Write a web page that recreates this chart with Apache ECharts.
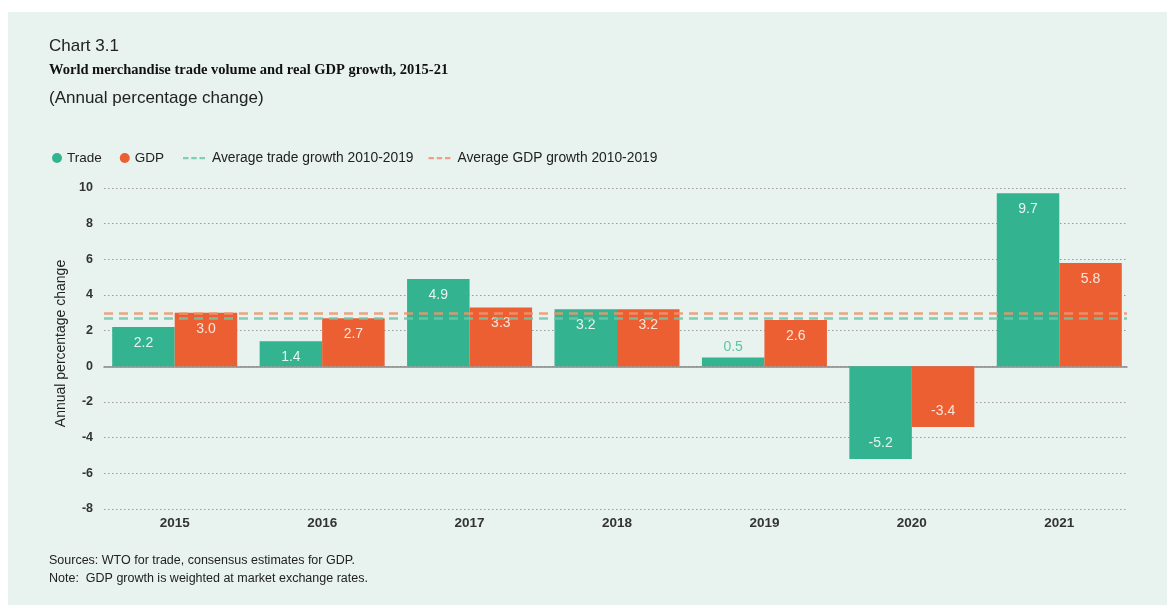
<!DOCTYPE html>
<html>
<head>
<meta charset="utf-8">
<script src="https://cdn.jsdelivr.net/npm/echarts@6/dist/echarts.min.js"></script>
<style>
html,body{margin:0;padding:0;background:#fff;}
#panel{position:absolute;left:8px;top:12px;width:1159px;height:593px;background:#e8f2ef;}
#chart{position:absolute;left:0;top:0;width:1159px;height:593px;}
</style>
</head>
<body>
<div id="panel"><div id="chart"></div></div>
<script>
const categories = ['2015','2016','2017','2018','2019','2020','2021'];
const tradeValues = [2.2, 1.4, 4.9, 3.2, 0.5, -5.2, 9.7];
const gdpValues = [3.0, 2.7, 3.3, 3.2, 2.6, -3.4, 5.8];
const avgTrade = 2.7;
const avgGdp = 3.0;
const yTicks = [-8, -6, -4, -2, 0, 2, 4, 6, 8, 10];

const GREEN = '#33b38f';
const ORANGE = '#ec5f32';
const FONT = '"Liberation Sans", Arial, sans-serif';
const DASH_ICON = 'path://M0,5h6v2.5h-6z M9,5h6v2.5h-6z M18,5h6v2.5h-6z M0,0h0.01v0.01h-0.01z M0,12h0.01v0.01h-0.01z';

function barData(vals) {
  return vals.map(v => {
    const item = { value: v };
    if (v < 0) {
      item.label = { position: 'insideBottom', distance: 9 };
    } else if (v < 1) {
      item.label = { position: 'top', color: '#5fc4a6', distance: 3 };
    }
    return item;
  });
}

const chart = echarts.init(document.getElementById('chart'), null, { renderer: 'canvas' });
const option = {
  backgroundColor: 'transparent',
  animation: false,
  title: [
    { text: 'Chart 3.1', left: 36, top: 21, textStyle: { fontFamily: FONT, fontSize: 17, fontWeight: 'normal', color: '#222' } },
    { text: 'World merchandise trade volume and real GDP growth, 2015-21', left: 36, top: 46, textStyle: { fontFamily: '"Liberation Serif", serif', fontSize: 14.5, fontWeight: 'bold', color: '#111' } },
    { text: '(Annual percentage change)', left: 36, top: 73, textStyle: { fontFamily: FONT, fontSize: 17, fontWeight: 'normal', color: '#222' } },
    { text: 'Sources: WTO for trade, consensus estimates for GDP.', left: 36, top: 537, textStyle: { fontFamily: FONT, fontSize: 12.5, fontWeight: 'normal', color: '#222' } },
    { text: 'Note:  GDP growth is weighted at market exchange rates.', left: 36, top: 555, textStyle: { fontFamily: FONT, fontSize: 12.5, fontWeight: 'normal', color: '#222' } }
  ],
  legend: [
    {
      left: 39, top: 134,
      itemGap: 18, itemWidth: 10, itemHeight: 10,
      textStyle: { fontFamily: FONT, fontSize: 13.5, color: '#222' },
      data: [
        { name: 'Trade', icon: 'circle' },
        { name: 'GDP', icon: 'circle' }
      ]
    },
    {
      left: 170, top: 134,
      itemGap: 15, itemWidth: 22, itemHeight: 12,
      textStyle: { fontFamily: FONT, fontSize: 13.8, color: '#222', padding: [0, 0, 0, 2] },
      data: [
        { name: 'Average trade growth 2010-2019', icon: DASH_ICON },
        { name: 'Average GDP growth 2010-2019', icon: DASH_ICON }
      ]
    }
  ],
  grid: [
    { left: 96, right: 40, top: 176, bottom: 96, containLabel: false },
    { left: 93, right: 34, top: 176, bottom: 96, containLabel: false }
  ],
  xAxis: [
    {
      gridIndex: 0, type: 'value', min: 0, max: 1,
      axisLine: { show: true, onZero: true, lineStyle: { color: '#888', width: 1.5 } },
      axisTick: { show: false }, axisLabel: { show: false }, splitLine: { show: false }
    },
    {
      gridIndex: 1, type: 'category', data: categories,
      axisLine: { show: false }, axisTick: { show: false },
      axisLabel: { fontFamily: FONT, fontSize: 13.5, fontWeight: 'bold', color: '#333', margin: 7 }
    }
  ],
  yAxis: [
    {
      gridIndex: 0, type: 'value',
      min: -8, max: 10, interval: 2,
      name: 'Annual percentage change',
      nameLocation: 'middle',
      nameGap: 30,
      nameRotate: 90,
      nameTextStyle: { fontFamily: FONT, fontSize: 14, color: '#222', padding: [0,0,0,10] },
      axisLine: { show: false },
      axisTick: { show: false },
      axisLabel: { fontFamily: FONT, fontSize: 12.5, fontWeight: 'bold', color: '#333', margin: 11,
        formatter: v => yTicks.includes(v) ? String(v) : '' },
      splitLine: { show: true, lineStyle: { color: '#9a9a9a', type: [1.5, 2.5], width: 1 } }
    },
    {
      gridIndex: 1, type: 'value',
      min: -8, max: 10, interval: 2,
      axisLine: { show: false }, axisTick: { show: false },
      axisLabel: { show: false }, splitLine: { show: false }
    }
  ],
  series: [
    {
      name: 'Trade', type: 'bar', xAxisIndex: 1, yAxisIndex: 1, data: barData(tradeValues),
      itemStyle: { color: GREEN },
      barGap: '0%', barCategoryGap: '15.2%',
      label: { show: true, position: 'insideTop', distance: 9, fontFamily: FONT, fontSize: 14, color: '#e3f5ee', formatter: p => p.value.toFixed(1) }
    },
    {
      name: 'GDP', type: 'bar', xAxisIndex: 1, yAxisIndex: 1, data: barData(gdpValues),
      itemStyle: { color: ORANGE },
      label: { show: true, position: 'insideTop', distance: 9, fontFamily: FONT, fontSize: 14, color: '#fde4da', formatter: p => p.value.toFixed(1) }
    },
    {
      name: 'Average trade growth 2010-2019', type: 'line', xAxisIndex: 0, yAxisIndex: 0,
      data: [],
      symbol: 'none',
      lineStyle: { color: '#7fcfb3', type: [7, 5], width: 2.5 },
      itemStyle: { color: '#7fcfb3' },
      z: 5,
      markLine: {
        silent: true, symbol: 'none', label: { show: false },
        lineStyle: { color: '#6cc8a8', type: [9, 6], width: 2.5, opacity: 0.85 },
        data: [{ yAxis: avgTrade }]
      }
    },
    {
      name: 'Average GDP growth 2010-2019', type: 'line', xAxisIndex: 0, yAxisIndex: 0,
      data: [],
      symbol: 'none',
      lineStyle: { color: '#f2a07f', type: [7, 5], width: 2.5 },
      itemStyle: { color: '#f2a07f' },
      z: 5,
      markLine: {
        silent: true, symbol: 'none', label: { show: false },
        lineStyle: { color: '#f0956f', type: [9, 6], width: 2.5, opacity: 0.85 },
        data: [{ yAxis: avgGdp }]
      }
    }
  ]
};
chart.setOption(option);
</script>
</body>
</html>
